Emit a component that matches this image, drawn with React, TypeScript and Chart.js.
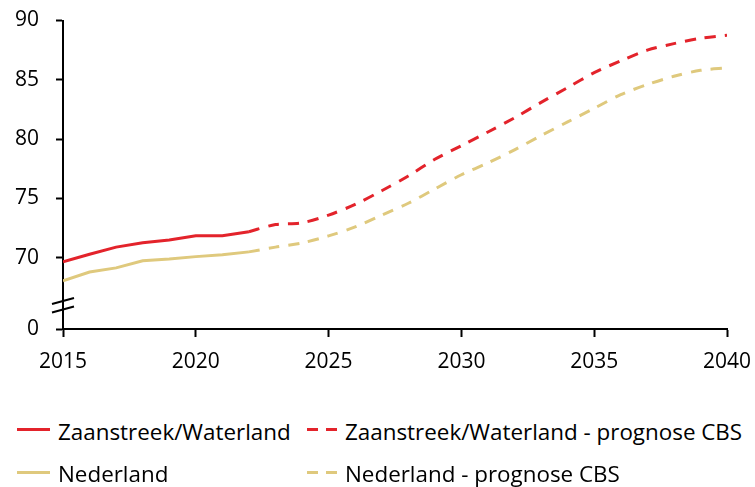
import React, { useEffect, useRef } from "react";
import { Chart, registerables } from "chart.js";

Chart.register(...registerables);

const histYears = [2015, 2016, 2017, 2018, 2019, 2020, 2021, 2022];
const zaanHist = [69.66, 70.3, 70.9, 71.27, 71.5, 71.85, 71.85, 72.2];
const nlHist = [68.06, 68.8, 69.15, 69.75, 69.9, 70.1, 70.25, 70.5];

const progYears = [2022, 2023, 2024, 2025, 2026, 2027, 2028, 2029, 2030, 2031, 2032, 2033, 2034, 2035, 2036, 2037, 2038, 2039, 2040];
const zaanProg = [72.2, 72.8, 72.95, 73.6, 74.5, 75.65, 76.9, 78.3, 79.45, 80.6, 81.8, 83.1, 84.35, 85.6, 86.6, 87.5, 88.05, 88.5, 88.75];
const nlProg = [70.5, 70.9, 71.25, 71.85, 72.6, 73.6, 74.6, 75.8, 77.0, 78.0, 79.1, 80.3, 81.45, 82.6, 83.75, 84.6, 85.3, 85.8, 86.0];

const yTicks = [64, 70, 75, 80, 85, 90];
const yTickLabels = ["0", "70", "75", "80", "85", "90"];
const xTicks = [2015, 2020, 2025, 2030, 2035, 2040];

const legendItems = [
  { label: "Zaanstreek/Waterland", color: "#E3232B", dashed: false },
  { label: "Zaanstreek/Waterland - prognose CBS", color: "#E3232B", dashed: true },
  { label: "Nederland", color: "#DFC97D", dashed: false },
  { label: "Nederland - prognose CBS", color: "#DFC97D", dashed: true },
];

const RED = "#E3232B";
const TAN = "#DFC97D";
const FONT = "'Open Sans', sans-serif";

const pts = (xs: number[], ys: number[]) => xs.map((x, i) => ({ x, y: ys[i] }));

const breakPlugin = {
  id: "axisBreak",
  afterDraw(chart: any) {
    const ctx = chart.ctx;
    const y = chart.scales.y;
    const x0 = chart.chartArea.left;
    const b = y.bottom;
    ctx.save();
    ctx.strokeStyle = "#000";
    ctx.lineWidth = 2;
    ctx.beginPath();
    ctx.moveTo(x0 - 11, b - 25);
    ctx.lineTo(x0 + 11, b - 31);
    ctx.moveTo(x0 - 11, b - 16.5);
    ctx.lineTo(x0 + 11, b - 22.5);
    ctx.stroke();
    ctx.restore();
  },
};

export default function App() {
  const ref = useRef<HTMLCanvasElement>(null);
  useEffect(() => {
    if (!ref.current) return;
    const chart = new Chart(ref.current, {
      type: "line",
      data: {
        datasets: [
          { label: "Zaanstreek/Waterland", data: pts(histYears, zaanHist), borderColor: RED, borderWidth: 3, pointRadius: 0, tension: 0 },
          { label: "Nederland", data: pts(histYears, nlHist), borderColor: TAN, borderWidth: 3, pointRadius: 0, tension: 0 },
          { label: "Zaanstreek/Waterland - prognose CBS", data: pts(progYears, zaanProg), borderColor: RED, borderWidth: 3, borderDash: [11, 9], pointRadius: 0, tension: 0.3 },
          { label: "Nederland - prognose CBS", data: pts(progYears, nlProg), borderColor: TAN, borderWidth: 3, borderDash: [11, 9], pointRadius: 0, tension: 0.3 },
        ],
      },
      options: {
        responsive: false,
        animation: false,
        layout: { padding: { top: 20.5, right: 28, left: 0, bottom: 0 } },
        plugins: { legend: { display: false }, tooltip: { enabled: false } },
        scales: {
          x: {
            type: "linear",
            min: 2015,
            max: 2040,
            afterBuildTicks: (s: any) => { s.ticks = xTicks.map((v) => ({ value: v })); },
            afterFit: (s: any) => { s.height = 71; s.paddingLeft = 0; s.paddingRight = 0; },
            ticks: { color: "#000", font: { family: FONT, size: 21 }, padding: 12, callback: (v: any) => String(v), maxRotation: 0 },
            grid: { drawOnChartArea: false, tickLength: 8, tickColor: "#000", tickWidth: 2 },
            border: { color: "#000", width: 2 },
          },
          y: {
            type: "linear",
            min: 64,
            max: 90,
            afterBuildTicks: (s: any) => { s.ticks = yTicks.map((v) => ({ value: v })); },
            afterFit: (s: any) => { s.width = 63; s.paddingTop = 0; s.paddingBottom = 0; },
            ticks: { color: "#000", font: { family: FONT, size: 21 }, padding: 17, callback: (v: any) => yTickLabels[yTicks.indexOf(v)] ?? "" },
            grid: { drawOnChartArea: false, tickLength: 7, tickColor: "#000", tickWidth: 2 },
            border: { color: "#000", width: 2 },
          },
        },
      },
      plugins: [breakPlugin],
    } as any);
    return () => chart.destroy();
  }, []);

  const cols = [
    { lineX: 17, textX: 58 },
    { lineX: 307, textX: 345 },
  ];
  const rows = [429.5, 472];

  return (
    <div style={{ position: "fixed", left: 0, top: 0, width: 755, height: 487, background: "#fff" }}>
      <canvas ref={ref} width={755} height={400} style={{ position: "absolute", left: 0, top: 0 }} />
      {legendItems.map((it, i) => {
        const c = cols[i % 2];
        const r = rows[Math.floor(i / 2)];
        return (
          <React.Fragment key={i}>
            {it.dashed ? (
              <>
                <div style={{ position: "absolute", left: c.lineX, top: r - 1.5, width: 11, height: 3, background: it.color }} />
                <div style={{ position: "absolute", left: c.lineX + 19, top: r - 1.5, width: 11, height: 3, background: it.color }} />
              </>
            ) : (
              <div style={{ position: "absolute", left: c.lineX, top: r - 1.5, width: 33, height: 3, background: it.color }} />
            )}
            <div style={{ position: "absolute", left: c.textX, top: r - 14, height: 32, lineHeight: "32px", fontFamily: FONT, fontSize: 22.4, color: "#000", whiteSpace: "nowrap" }}>
              {it.label}
            </div>
          </React.Fragment>
        );
      })}
    </div>
  );
}
